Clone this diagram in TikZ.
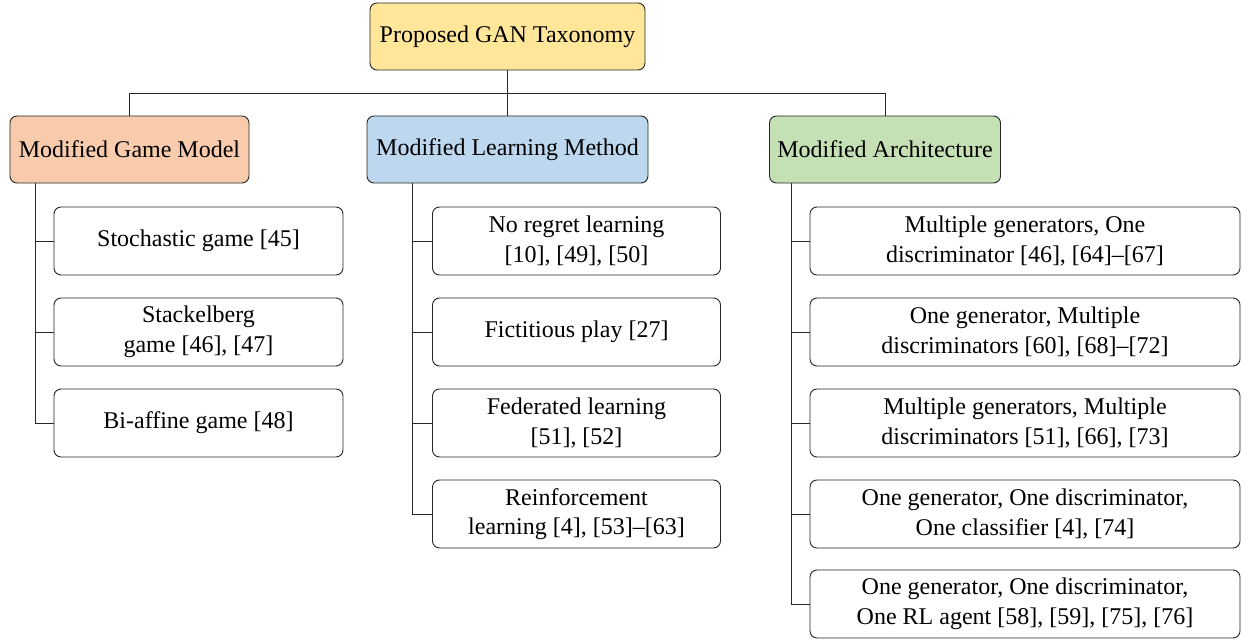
\documentclass[tikz,border=0pt]{standalone}
\usepackage{fontspec}
\setmainfont{Liberation Serif}
\begin{document}
\begin{tikzpicture}[x=1pt,y=-1pt,
  box/.style={draw=black!85, line width=0.9pt, rounded corners=7pt, align=center,
    inner sep=0pt, font=\fontsize{24}{29.5}\selectfont},
  rootbox/.style={box, fill=yellowc, minimum width=275pt, minimum height=67pt},
  gamebox/.style={box, fill=orangec, minimum width=239pt, minimum height=67pt},
  learnbox/.style={box, fill=bluec, minimum width=281pt, minimum height=67pt},
  archbox/.style={box, fill=greenc, minimum width=231pt, minimum height=67pt},
  gchild/.style={box, minimum width=289pt, minimum height=68pt},
  lchild/.style={box, minimum width=288pt, minimum height=68pt},
  achild/.style={box, minimum width=430pt, minimum height=68pt},
  conn/.style={draw=black!85, line width=0.9pt}
]
\definecolor{yellowc}{HTML}{FFE699}
\definecolor{orangec}{HTML}{F8CBAD}
\definecolor{bluec}{HTML}{BDD7EE}
\definecolor{greenc}{HTML}{C5E0B4}
\useasboundingbox (0,0) rectangle (1248,639);

\node[rootbox] (root) at (507.5,36.5) {Proposed GAN Taxonomy};
\node[gamebox] (gm) at (129.5,149.5) {Modified Game Model};
\node[learnbox] (lm) at (507.5,149.5) {Modified Learning Method};
\node[archbox] (ar) at (885,149.5) {Modified Architecture};

\node[gchild] (g1) at (198.5,241) {Stochastic game [45]};
\node[gchild] (g2) at (198.5,332) {Stackelberg\\game [46], [47]};
\node[gchild] (g3) at (198.5,423) {Bi-affine game [48]};

\node[lchild] (l1) at (576.5,241) {No regret learning\\{}[10], [49], [50]};
\node[lchild] (l2) at (576.5,332) {Fictitious play [27]};
\node[lchild] (l3) at (576.5,423) {Federated learning\\{}[51], [52]};
\node[lchild] (l4) at (576.5,514) {Reinforcement\\learning [4], [53]--[63]};

\node[achild] (a1) at (1025,241) {Multiple generators, One\\discriminator [46], [64]--[67]};
\node[achild] (a2) at (1025,332) {One generator, Multiple\\discriminators [60], [68]--[72]};
\node[achild] (a3) at (1025,423) {Multiple generators, Multiple\\discriminators [51], [66], [73]};
\node[achild] (a4) at (1025,514) {One generator, One discriminator,\\One classifier [4], [74]};
\node[achild] (a5) at (1025,604) {One generator, One discriminator,\\One RL agent [58], [59], [75], [76]};

\coordinate (bus) at (0,93);
\draw[conn] (root.south) -- (root.south |- bus);
\draw[conn] (gm.north) -- (gm.north |- bus) -- (ar.north |- bus) -- (ar.north);
\draw[conn] (lm.north) -- (lm.north |- bus);

\foreach \c in {g1,g2,g3}{\draw[conn] ([xshift=-94.5pt]gm.south) |- (\c.west);}
\foreach \c in {l1,l2,l3,l4}{\draw[conn] ([xshift=-95pt]lm.south) |- (\c.west);}
\foreach \c in {a1,a2,a3,a4,a5}{\draw[conn] ([xshift=-94pt]ar.south) |- (\c.west);}
\end{tikzpicture}
\end{document}
